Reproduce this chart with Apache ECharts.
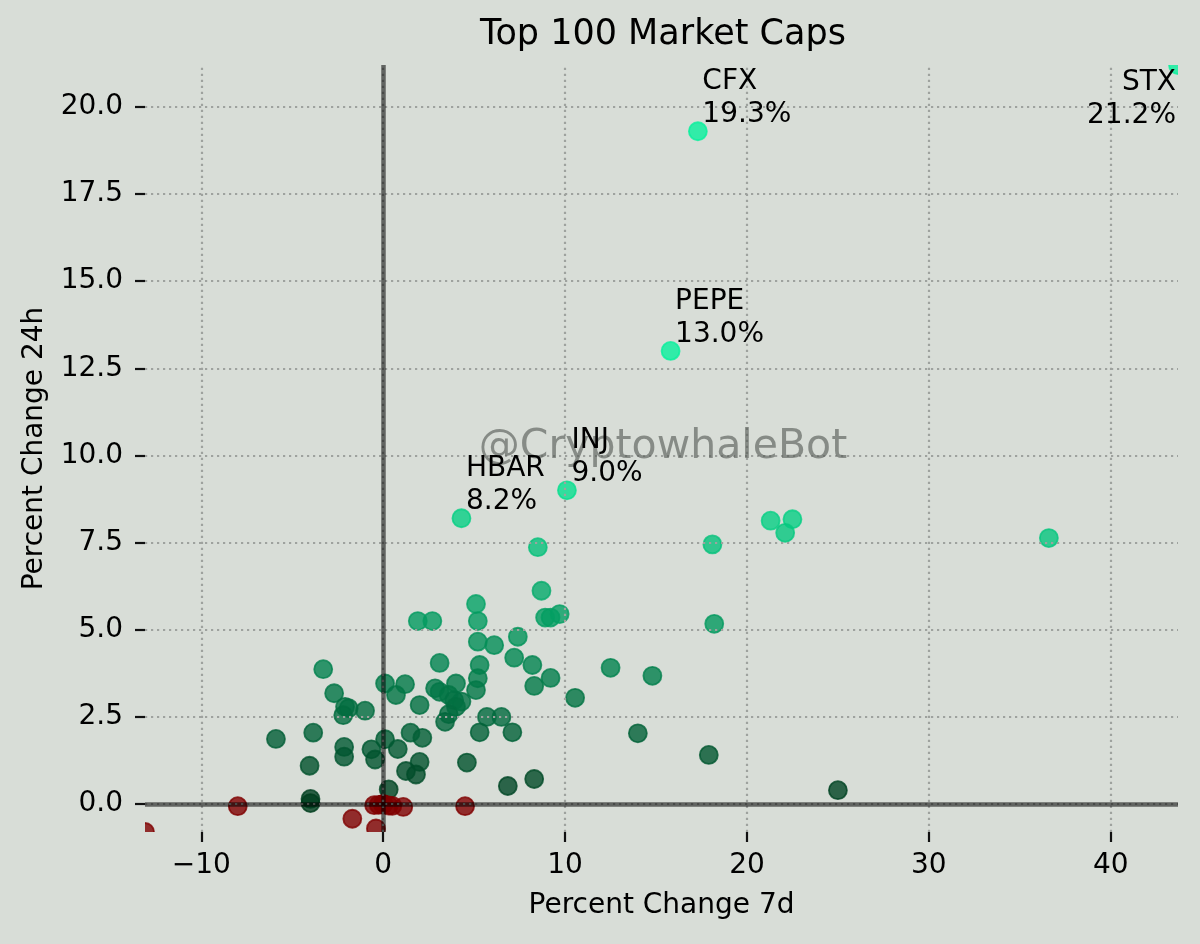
<!DOCTYPE html>
<html>
<head>
<meta charset="utf-8">
<script src="https://cdn.jsdelivr.net/npm/echarts@6/dist/echarts.min.js"></script>
<style>
html,body{margin:0;padding:0;background:#d8ddd7;}
#chart{width:1200px;height:944px;}
</style>
</head>
<body>
<div id="chart"></div>
<script>
// ---- data ----
const chartTitle = 'Top 100 Market Caps';
const xAxisName = 'Percent Change 7d';
const yAxisName = 'Percent Change 24h';
const watermark = '@CryptowhaleBot';

// first entries are the annotated coins
const names = ['STX', 'CFX', 'PEPE', 'INJ', 'HBAR'];

const pct7d = [
  43.7, 17.3, 15.8, 10.1, 4.3,
  22.5, 21.3, 22.1, 36.6, 18.1, 8.5, 8.7, 5.1, 5.2, 1.9,
  2.7, 8.9, 9.2, 9.7, 18.2, 7.4, 5.2, 6.1, 7.2, 3.1,
  5.3, 8.2, 12.5, -3.3, 14.8, 9.2, 5.2, 0.1, 1.2, 4.0,
  8.3, 2.85, 5.1, 3.1, -2.7, 0.7, 3.6, 10.55, 3.9, 4.3,
  2.0, -2.1, -1.9, 4.0, -1.0, 3.6, -2.2, 5.7, 6.5, 3.4,
  5.3, 7.1, -3.85, 1.5, 14.0, 2.15, -5.9, 0.1, -2.15, 0.8,
  -0.65, 17.9, -2.15, -0.45, 2.0, 4.6, -4.05, 1.25, 1.8, 8.3,
  6.85, 0.3, 25.0, -4.0, -4.0,
  -13.1, -8.0, -1.7, -0.4, -0.5, -0.25, 0.0, 0.0, 0.0, 0.3,
  0.5, 1.1, 4.5
];

const pct24h = [
  21.2, 19.3, 13.0, 9.0, 8.2,
  8.17, 8.13, 7.78, 7.63, 7.45, 7.37, 6.12, 5.74, 5.25, 5.25,
  5.25, 5.35, 5.35, 5.45, 5.17, 4.80, 4.66, 4.56, 4.20, 4.05,
  3.99, 3.99, 3.91, 3.87, 3.68, 3.62, 3.61, 3.46, 3.44, 3.46,
  3.39, 3.32, 3.27, 3.22, 3.18, 3.13, 3.13, 3.05, 2.98, 2.94,
  2.84, 2.79, 2.75, 2.79, 2.68, 2.58, 2.55, 2.50, 2.50, 2.36,
  2.06, 2.06, 2.05, 2.05, 2.03, 1.90, 1.87, 1.86, 1.64, 1.58,
  1.57, 1.41, 1.36, 1.28, 1.21, 1.19, 1.10, 0.95, 0.85, 0.72,
  0.52, 0.42, 0.40, 0.15, 0.03,
  -0.80, -0.06, -0.42, -0.70, -0.03, -0.02, -0.01, 0.0, 0.0, -0.04,
  -0.05, -0.08, -0.06
];

const xTicks = [-10, 0, 10, 20, 30, 40];
const yTicks = [0, 2.5, 5, 7.5, 10, 12.5, 15, 17.5, 20];

// ---- derived ----
const pts = pct7d.map((x, i) => [x, pct24h[i]]);
const upPts = pts.filter(p => p[1] > 0);
const downPts = pts.filter(p => p[1] <= 0);
const xMin = Math.min(...pct7d), xMax = Math.max(...pct7d);
const yMin = Math.min(...pct24h), yMax = Math.max(...pct24h);

const labelPts = names.map((n, i) => {
  const nearRight = pct7d[i] > xMax - 0.1 * (xMax - xMin);
  return {
    value: [pct7d[i], pct24h[i], n],
    label: nearRight
      ? { position: [-1.5, 1.5], align: 'right', verticalAlign: 'top' }
      : { position: [5, 0.5], align: 'left', verticalAlign: 'bottom' }
  };
});

const FONT = 'DejaVu Sans';

function dot(color) {
  return function (params, api) {
    const c = api.coord([api.value(0), api.value(1)]);
    const col = color || api.visual('color');
    return {
      type: 'circle',
      z2: color ? 2 : 1,
      shape: { cx: c[0], cy: c[1], r: 9 },
      style: { fill: col, stroke: col, lineWidth: 1.8, opacity: 0.8 }
    };
  };
}

const gridLineStyle = { color: '#9ea29e', width: 2.2, type: [2.2, 3.8] };
const zeroLineStyle = { color: 'rgba(0,0,0,0.55)', width: 4.5, type: 'solid' };

const markData = []
  .concat(xTicks.map(v => ({ xAxis: v, lineStyle: gridLineStyle })))
  .concat(yTicks.map(v => ({ yAxis: v, lineStyle: gridLineStyle })))
  .concat([{ xAxis: 0, lineStyle: zeroLineStyle }, { yAxis: 0, lineStyle: zeroLineStyle }]);

const chart = echarts.init(document.getElementById('chart'), null, { renderer: 'canvas' });

chart.setOption({
  animation: false,
  backgroundColor: '#d8ddd7',
  textStyle: { fontFamily: FONT },
  title: {
    text: chartTitle,
    left: 475,
    top: 12,
    textStyle: { fontFamily: FONT, fontSize: 35, fontWeight: 'normal', color: '#000' }
  },
  grid: { left: 145, right: 22, top: 65, bottom: 112, containLabel: false, outerBoundsMode: 'none' },
  xAxis: {
    type: 'value',
    min: xMin,
    max: xMax,
    name: xAxisName,
    nameLocation: 'middle',
    nameGap: 60,
    nameTextStyle: { fontFamily: FONT, fontSize: 28, color: '#000' },
    axisLine: { show: false, onZero: false },
    splitLine: { show: false },
    axisTick: { show: true, inside: false, customValues: xTicks, length: 10, lineStyle: { color: '#111', width: 2.2 } },
    axisLabel: {
      customValues: xTicks,
      fontFamily: FONT, fontSize: 28, color: '#000', margin: 20,
      formatter: v => (v < 0 ? '\u2212' + Math.abs(v) : String(v))
    }
  },
  yAxis: {
    type: 'value',
    min: yMin,
    max: yMax,
    name: yAxisName,
    nameLocation: 'middle',
    nameGap: 96,
    nameRotate: 90,
    nameTextStyle: { fontFamily: FONT, fontSize: 28, color: '#000' },
    axisLine: { show: false, onZero: false },
    splitLine: { show: false },
    axisTick: { show: true, inside: false, customValues: yTicks, length: 10, lineStyle: { color: '#111', width: 2.2 } },
    axisLabel: {
      customValues: yTicks,
      fontFamily: FONT, fontSize: 28, color: '#000', margin: 22,
      formatter: v => v.toFixed(1)
    }
  },
  visualMap: {
    type: 'continuous',
    show: false,
    seriesIndex: 0,
    dimension: 1,
    min: 0,
    max: 10,
    inRange: { color: ['#003d1e', '#08f09c'] }
  },
  graphic: [{
    type: 'text',
    x: 663,
    y: 447,
    z: 4,
    silent: true,
    style: {
      text: watermark,
      font: '41px "DejaVu Sans"',
      fill: 'rgba(80,85,80,0.6)',
      align: 'center',
      verticalAlign: 'middle'
    }
  }],
  series: [
    {
      name: 'up',
      type: 'custom',
      coordinateSystem: 'cartesian2d',
      clip: true,
      z: 2,
      encode: { x: 0, y: 1 },
      data: upPts,
      renderItem: dot(null)
    },
    {
      name: 'down',
      type: 'custom',
      coordinateSystem: 'cartesian2d',
      clip: true,
      z: 2,
      encode: { x: 0, y: 1 },
      data: downPts,
      renderItem: dot('#800000')
    },
    {
      name: 'labels',
      type: 'scatter',
      z: 6,
      symbolSize: 1,
      itemStyle: { color: 'rgba(0,0,0,0)', opacity: 1 },
      emphasis: { disabled: true },
      data: labelPts,
      label: {
        show: true,
        fontFamily: FONT,
        fontSize: 28,
        lineHeight: 33,
        color: '#000',
        opacity: 1,
        formatter: p => p.value[2] + '\n' + p.value[1].toFixed(1) + '%'
      },
      labelLayout: { hideOverlap: false },
      markLine: {
        silent: true,
        z: 3,
        symbol: ['none', 'none'],
        label: { show: false },
        emphasis: { disabled: true },
        data: markData
      }
    }
  ]
});
</script>
</body>
</html>
